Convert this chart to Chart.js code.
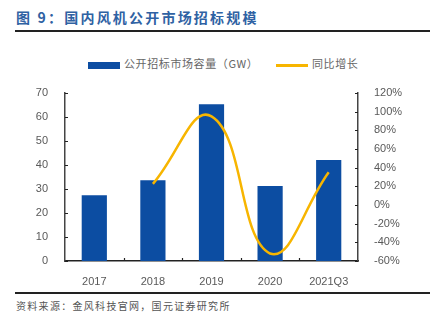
<!DOCTYPE html>
<html lang="zh">
  <head>
    <meta charset="UTF-8" />
    <title>国内风机公开市场招标规模</title>
    <script src="https://cdn.jsdelivr.net/npm/chart.js@4.4.0/dist/chart.umd.min.js"></script>
    <style>
      body { margin: 0; width: 430px; height: 323px; background: #fff; position: relative; overflow: hidden;
             font-family: "Noto Sans CJK SC", "Liberation Sans", sans-serif; }
      #title { position: absolute; left: 16px; top: 7px; font-size: 14px; font-weight: bold; color: #2f62a3; letter-spacing: 2.2px; }
      #rule1 { position: absolute; left: 15px; right: 0; top: 30px; height: 1.5px; background: #222; }
      #rule2 { position: absolute; left: 15px; right: 0; top: 292px; height: 1.5px; background: #222; }
      #source { position: absolute; left: 16px; top: 298px; font-size: 10px; color: #555; letter-spacing: 1.3px; }
      #legend { position: absolute; top: 55px; left: 88px; font-size: 11px; color: #666; white-space: nowrap; letter-spacing: 0.6px; }
      #legend span.item { position: absolute; top: 0; }
      .swatch { display: inline-block; width: 32px; vertical-align: middle; margin-right: 4px; }
      #wrap { position: absolute; left: 0; top: 40px; width: 430px; height: 250px; }
    </style>
  </head>
  <body>
    <div id="title">图 9：国内风机公开市场招标规模</div>
    <div id="rule1"></div>
    <div id="legend"></div>
    <div id="wrap"><canvas id="myChart"></canvas></div>
    <div id="rule2"></div>
    <div id="source">资料来源：金风科技官网，国元证券研究所</div>

    <script>
      // values
      const years = ['2017', '2018', '2019', '2020', '2021Q3'];
      const capacity = [27.4, 33.6, 65.3, 31.2, 42.1];   // GW
      const growth = [null, 22.6, 95, -52, 35];          // %
      const leftTicks = [0, 10, 20, 30, 40, 50, 60, 70];
      const rightTicks = [-60, -40, -20, 0, 20, 40, 60, 80, 100, 120];

      const barLabel = '公开招标市场容量（GW）';
      const lineLabel = '同比增长';
      const blue = '#0c4da2';
      const gold = '#f7b500';

      // html legend
      const legend = document.getElementById('legend');
      legend.innerHTML =
        '<span class="item" style="left:0"><span class="swatch" style="height:7px;background:' + blue + '"></span>' + barLabel + '</span>' +
        '<span class="item" style="left:188px"><span class="swatch" style="height:3px;background:' + gold + '"></span>' + lineLabel + '</span>';

      // short ticks pointing into the plot area
      const innerTicks = {
        id: 'innerTicks',
        afterDraw(chart) {
          const ctx = chart.ctx;
          const a = chart.chartArea;
          ctx.save();
          ctx.strokeStyle = '#222';
          ctx.lineWidth = 1.2;
          ctx.beginPath();
          leftTicks.forEach(v => {
            const y = Math.round(chart.scales.y.getPixelForValue(v)) + 0.5;
            ctx.moveTo(a.left, y); ctx.lineTo(a.left + 3, y);
          });
          rightTicks.forEach(v => {
            const y = Math.round(chart.scales.y1.getPixelForValue(v)) + 0.5;
            ctx.moveTo(a.right, y); ctx.lineTo(a.right - 3, y);
          });
          const xs = chart.scales.x;
          for (let i = 1; i < years.length; i++) {
            const x = Math.round((xs.getPixelForValue(i - 1) + xs.getPixelForValue(i)) / 2) + 0.5;
            ctx.moveTo(x, a.bottom); ctx.lineTo(x, a.bottom - 3);
          }
          ctx.stroke();
          ctx.restore();
        }
      };

      const tickFont = { family: '"Liberation Sans", Arial, sans-serif', size: 11 };

      new Chart(document.getElementById('myChart'), {
        data: {
          labels: years,
          datasets: [
            {
              type: 'line', label: lineLabel, data: growth, yAxisID: 'y1',
              borderColor: gold, borderWidth: 2.5, pointRadius: 0, tension: 0.45,
              spanGaps: true, fill: false, order: 0
            },
            {
              type: 'bar', label: barLabel, data: capacity, yAxisID: 'y',
              backgroundColor: blue, barPercentage: 0.43, categoryPercentage: 1, order: 1
            }
          ]
        },
        options: {
          responsive: true,
          maintainAspectRatio: false,
          animation: false,
          layout: { padding: { top: 53, left: 0, right: 0, bottom: 0 } },
          plugins: { legend: { display: false }, tooltip: { enabled: false } },
          scales: {
            x: {
              grid: { display: false },
              border: { display: true, color: '#222', width: 1.5 },
              ticks: { color: '#595959', font: tickFont, padding: 6 },
              afterFit(s) { s.height = 29; }
            },
            y: {
              position: 'left', min: 0, max: 70,
              grid: { display: false },
              border: { display: true, color: '#444', width: 1.5 },
              ticks: { stepSize: 10, color: '#595959', font: tickFont, padding: 9 },
              afterFit(s) { s.width = 65; }
            },
            y1: {
              position: 'right', min: -60, max: 120,
              grid: { display: false },
              border: { display: true, color: '#444', width: 1.5 },
              ticks: { stepSize: 20, color: '#595959', font: tickFont, padding: 8,
                       callback: v => v + '%' },
              afterFit(s) { s.width = 72; }
            }
          }
        },
        plugins: [innerTicks]
      });
    </script>
  </body>
</html>
